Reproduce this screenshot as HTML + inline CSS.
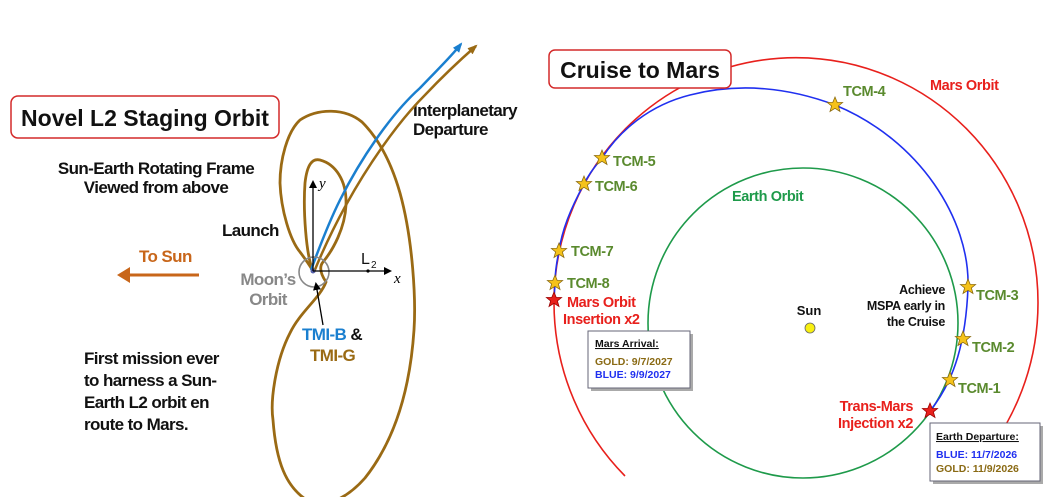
<!DOCTYPE html>
<html><head><meta charset="utf-8"><style>
body{margin:0;background:#fff;}
svg{display:block;font-family:"Liberation Sans",Arial,sans-serif;font-weight:bold;}
</style></head><body>
<svg width="1060" height="497" viewBox="0 0 1060 497" xmlns="http://www.w3.org/2000/svg">
<defs>
<polygon id="st" points="0,-8 2.2,-2.6 7.6,-2.5 3.4,1 5,6.5 0,3.3 -5,6.5 -3.4,1 -7.6,-2.5 -2.2,-2.6" />
<marker id="ah" markerWidth="8" markerHeight="8" refX="6" refY="4" orient="auto" markerUnits="userSpaceOnUse"><path d="M0,0 L8,4 L0,8 Z" fill="#000"/></marker>
<marker id="ab" markerWidth="10" markerHeight="8" refX="8" refY="4" orient="auto" markerUnits="userSpaceOnUse"><path d="M0,0 L10,4 L0,8 Z" fill="#1a7fcf"/></marker>
<marker id="ag" markerWidth="10" markerHeight="8" refX="8" refY="4" orient="auto" markerUnits="userSpaceOnUse"><path d="M0,0 L10,4 L0,8 Z" fill="#9a6a14"/></marker>
</defs>

<!-- LEFT PANEL -->
<rect x="11" y="96" width="268" height="42" rx="7" fill="#fff" stroke="#d42a2a" stroke-width="1.5"/>
<text x="145" y="126" font-size="23" text-anchor="middle" fill="#111" font-weight="bold">Novel L2 Staging Orbit</text>

<text x="156" y="174" font-size="17" text-anchor="middle" fill="#111" letter-spacing="-0.6">Sun-Earth Rotating Frame</text>
<text x="156" y="193" font-size="17" text-anchor="middle" fill="#111" letter-spacing="-0.6">Viewed from above</text>

<text x="413" y="116" font-size="17" fill="#111" letter-spacing="-0.6">Interplanetary</text>
<text x="413" y="135" font-size="17" fill="#111" letter-spacing="-0.6">Departure</text>

<text x="222" y="236" font-size="17" fill="#111" letter-spacing="-0.6">Launch</text>
<text x="139" y="262" font-size="17" fill="#c8661a" letter-spacing="-0.6">To Sun</text>
<line x1="199" y1="275" x2="125" y2="275" stroke="#c8661a" stroke-width="3"/>
<path d="M117,275 L130,267 L130,283 Z" fill="#c8661a"/>

<!-- gold orbit -->
<path d="M313,271 C306,255 303,210 305,183 C307,165 312,158 320,160 C335,164 347,180 346,205 C345,228 333,250 323,262 C318,268 322,276 326,282 C320,298 300,312 290,333 C276,360 270,400 273,420 C276,460 285,488 310,502 C330,508 350,495 365,478 C395,440 410,390 414,330 C416,300 413,240 400,193 C392,165 380,140 362,122 C345,108 318,108 300,120 C287,132 280,160 280,183 C281,210 290,240 300,252 C306,260 310,266 313,271" fill="none" stroke="#9a6a14" stroke-width="2.8"/>
<!-- departures -->
<path d="M311,270 C322,240 330,220 340,200 C360,160 390,115 420,88 C435,72 450,58 461,44" fill="none" stroke="#1a7fcf" stroke-width="2.5" marker-end="url(#ab)"/>
<path d="M314,272 C325,245 335,225 346,205 C367,167 396,124 425,95 C442,77 460,60 476,46" fill="none" stroke="#9a6a14" stroke-width="2.5" marker-end="url(#ag)"/>

<!-- axes -->
<circle cx="314" cy="272" r="15" fill="none" stroke="#888" stroke-width="1.6"/>
<circle cx="313" cy="271" r="2.5" fill="#5560aa"/>
<line x1="313" y1="271" x2="313" y2="182" stroke="#000" stroke-width="1.3" marker-end="url(#ah)"/>
<line x1="313" y1="271" x2="390" y2="271" stroke="#000" stroke-width="1.3" marker-end="url(#ah)"/>
<circle cx="368" cy="271" r="1.6" fill="#000"/>
<text x="319" y="188" font-size="15" font-family="Liberation Serif,serif" font-style="italic" font-weight="normal">y</text>
<text x="394" y="283" font-size="15" font-family="Liberation Serif,serif" font-style="italic" font-weight="normal">x</text>
<text x="361" y="264" font-size="16" font-weight="normal" fill="#111">L</text>
<text x="371" y="268" font-size="10" font-weight="normal" fill="#111">2</text>
<text x="268" y="285" font-size="17" text-anchor="middle" fill="#888" letter-spacing="-0.6">Moon’s</text>
<text x="268" y="305" font-size="17" text-anchor="middle" fill="#888" letter-spacing="-0.6">Orbit</text>
<line x1="323" y1="325" x2="316" y2="284" stroke="#000" stroke-width="1.3" marker-end="url(#ah)"/>
<text x="302" y="340" font-size="17" fill="#1a7fcf" letter-spacing="-0.6">TMI-B <tspan fill="#111">&amp;</tspan></text>
<text x="310" y="361" font-size="17" fill="#9a6a14" letter-spacing="-0.6">TMI-G</text>

<g font-size="17" fill="#111" letter-spacing="-0.6">
<text x="84" y="364">First mission ever</text>
<text x="84" y="386">to harness a Sun-</text>
<text x="84" y="408">Earth L2 orbit en</text>
<text x="84" y="430">route to Mars.</text>
</g>

<!-- RIGHT PANEL -->
<path d="M625,476 A242,245 0 1 1 967,476" fill="none" stroke="#e8201c" stroke-width="1.6"/>
<circle cx="803" cy="323" r="155" fill="none" stroke="#1e9a4a" stroke-width="1.6"/>
<path d="M930,411 C955,380 966,340 968,287 C970,220 920,140 835,105 C790,88 740,82 690,95 C650,105 620,130 602,158 C592,170 588,176 584,184 C570,210 562,230 559,251 C556,265 555,275 555,283 L554,300" fill="none" stroke="#2030f0" stroke-width="1.6"/>

<rect x="549" y="50" width="182" height="38" rx="6" fill="#fff" stroke="#d42a2a" stroke-width="1.5"/>
<text x="640" y="78" font-size="23" text-anchor="middle" fill="#111">Cruise to Mars</text>

<text x="930" y="90" font-size="14.5" fill="#e8201c" letter-spacing="-0.4">Mars Orbit</text>
<text x="732" y="201" font-size="14.5" fill="#1e9a4a" letter-spacing="-0.4">Earth Orbit</text>

<g font-size="14.5" fill="#5a8a2e" letter-spacing="-0.4">
<text x="843" y="96">TCM-4</text>
<text x="613" y="166">TCM-5</text>
<text x="595" y="191">TCM-6</text>
<text x="571" y="256">TCM-7</text>
<text x="567" y="288">TCM-8</text>
<text x="976" y="300">TCM-3</text>
<text x="972" y="352">TCM-2</text>
<text x="958" y="393">TCM-1</text>
</g>

<g fill="#f5c21a" stroke="#8a6a10" stroke-width="0.8">
<use href="#st" x="835" y="105"/>
<use href="#st" x="602" y="158"/>
<use href="#st" x="584" y="184"/>
<use href="#st" x="559" y="251"/>
<use href="#st" x="555" y="283"/>
<use href="#st" x="968" y="287"/>
<use href="#st" x="963" y="339"/>
<use href="#st" x="950" y="380"/>
</g>
<g fill="#e8201c" stroke="#900" stroke-width="0.8">
<use href="#st" x="554" y="300"/>
<use href="#st" x="930" y="411"/>
</g>

<g font-size="14.5" fill="#e8201c" letter-spacing="-0.4">
<text x="567" y="307">Mars Orbit</text>
<text x="563" y="324">Insertion x2</text>
<text x="913" y="411" text-anchor="end">Trans-Mars</text>
<text x="913" y="428" text-anchor="end">Injection x2</text>
</g>

<g font-size="12.5" fill="#111" text-anchor="end" letter-spacing="-0.3">
<text x="945" y="294">Achieve</text>
<text x="945" y="310">MSPA early in</text>
<text x="945" y="326">the Cruise</text>
</g>
<text x="809" y="315" font-size="13" fill="#111" text-anchor="middle">Sun</text>
<circle cx="810" cy="328" r="5" fill="#f8f010" stroke="#666" stroke-width="0.8"/>

<rect x="591" y="334" width="102" height="57" fill="#aaa"/>
<rect x="588" y="331" width="102" height="57" fill="#fff" stroke="#667" stroke-width="1"/>
<text x="595" y="347" font-size="10.5" fill="#111" text-decoration="underline">Mars Arrival:</text>
<text x="595" y="365" font-size="10.5" fill="#8a6a14">GOLD:  9/7/2027</text>
<text x="595" y="378" font-size="10.5" fill="#2030f0">BLUE:  9/9/2027</text>

<rect x="933" y="426" width="110" height="58" fill="#aaa"/>
<rect x="930" y="423" width="110" height="58" fill="#fff" stroke="#667" stroke-width="1"/>
<text x="936" y="440" font-size="10.5" fill="#111" text-decoration="underline">Earth Departure:</text>
<text x="936" y="458" font-size="10.5" fill="#2030f0">BLUE:  11/7/2026</text>
<text x="936" y="472" font-size="10.5" fill="#8a6a14">GOLD:  11/9/2026</text>
</svg>
</body></html>
